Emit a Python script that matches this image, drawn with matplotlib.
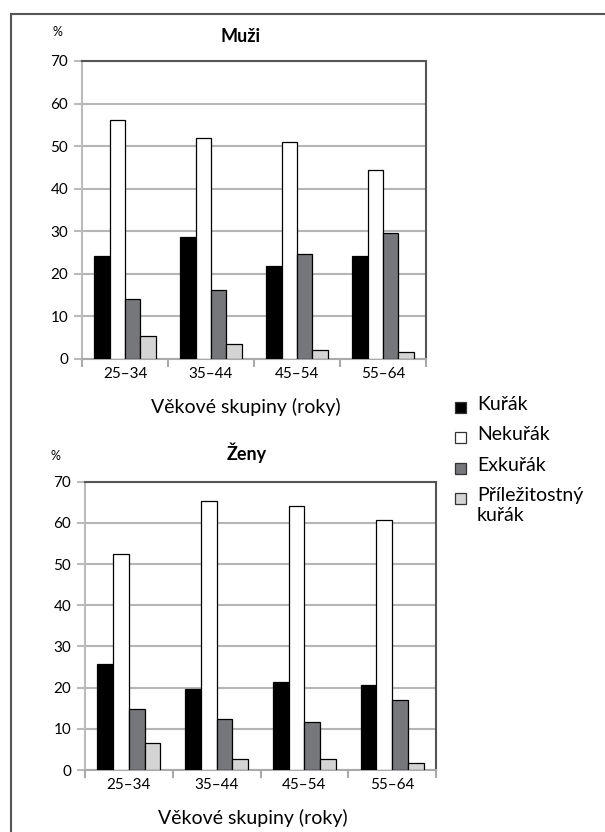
import matplotlib
matplotlib.use("Agg")
import matplotlib.pyplot as plt
import numpy as np
from matplotlib.patches import Rectangle
from matplotlib.lines import Line2D

plt.rcParams["font.family"] = ["Lato", "DejaVu Sans"]

groups = ["25–34", "35–44", "45–54", "55–64"]
series = ["Kuřák", "Nekuřák", "Exkuřák", "Příležitostný\nkuřák"]
colors = ["#000000", "#ffffff", "#76777b", "#d4d4d4"]

muzi_kurak = [24.2, 28.7, 21.9, 24.2]
muzi_nekurak = [56.2, 51.8, 51.0, 44.3]
muzi_exkurak = [14.1, 16.2, 24.6, 29.6]
muzi_prilez = [5.4, 3.5, 2.1, 1.6]

zeny_kurak = [25.7, 19.6, 21.4, 20.6]
zeny_nekurak = [52.4, 65.3, 64.2, 60.7]
zeny_exkurak = [14.7, 12.5, 11.7, 17.0]
zeny_prilez = [6.6, 2.7, 2.7, 1.6]

yticks = [0, 10, 20, 30, 40, 50, 60, 70]

W, H = 605, 832
fig = plt.figure(figsize=(W / 100, H / 100), dpi=100)


def fx(px):
    return px / W


def fy(py):
    return 1 - py / H


def draw_panel(rect, data, title, title_xy, pct_xy, xlabel_y):
    ax = fig.add_axes(rect)
    x = np.arange(len(groups))
    width = 0.18
    for i, vals in enumerate(data):
        ax.bar(x + (i - 1.5) * width, vals, width, color=colors[i],
               edgecolor="black", linewidth=0.9, zorder=3)
    ax.set_xlim(-0.5, len(groups) - 0.5)
    ax.set_ylim(0, 70)
    ax.set_yticks(yticks)
    ax.set_yticklabels([str(v) for v in yticks], fontsize=11)
    ax.yaxis.grid(True, color="#b5b5b5", linewidth=1.5, zorder=0)
    ax.set_xticks(x)
    ax.set_xticklabels(groups, fontsize=11)
    ax.set_xticks(np.arange(-0.5, len(groups)), minor=True)
    ax.tick_params(axis="x", which="major", length=0, pad=6)
    ax.tick_params(axis="x", which="minor", length=6, color="#aaaaaa", width=1.5)
    ax.tick_params(axis="y", length=6, color="#bbbbbb", width=1.5, pad=4)
    ax.spines["top"].set_color("#555555")
    ax.spines["right"].set_color("#555555")
    ax.spines["top"].set_linewidth(1.5)
    ax.spines["right"].set_linewidth(1.5)
    ax.spines["left"].set_color("#bbbbbb")
    ax.spines["left"].set_linewidth(1.5)
    ax.spines["bottom"].set_color("#aaaaaa")
    ax.spines["bottom"].set_linewidth(1.5)
    fig.text(fx(title_xy[0]), fy(title_xy[1]), title, fontsize=13,
             fontweight="bold", ha="center", va="center")
    fig.text(fx(pct_xy[0]), fy(pct_xy[1]), "%", fontsize=9, ha="center", va="center")
    fig.text(fx(rect[0] * W + rect[2] * W / 2 - 8), fy(xlabel_y), "Věkové skupiny (roky)",
             fontsize=14, ha="center", va="center")
    return ax


draw_panel([fx(82), fy(359), fx(426 - 82), (359 - 61) / H],
           [muzi_kurak, muzi_nekurak, muzi_exkurak, muzi_prilez],
           "Muži", (241, 37), (57, 32), 407)
draw_panel([fx(85), fy(770), fx(436 - 85), (770 - 481.7) / H],
           [zeny_kurak, zeny_nekurak, zeny_exkurak, zeny_prilez],
           "Ženy", (247, 453), (55, 456), 818)

# legend
leg_y = [407, 437, 468, 498]
for label, c, py in zip(series, colors, leg_y):
    fig.patches.append(Rectangle((fx(455), fy(py + 6)), 11 / W, 11 / H, facecolor=c,
                                 edgecolor="#333333", linewidth=0.9,
                                 transform=fig.transFigure, figure=fig))
    fig.text(fx(477), fy(py - 11), label, fontsize=14, ha="left", va="top",
             linespacing=1.2)

# frame
fig.add_artist(Line2D([fx(11), 1], [fy(14), fy(14)], color="#555555", linewidth=1.5,
                      transform=fig.transFigure))
fig.add_artist(Line2D([fx(11), fx(11)], [fy(14), 0], color="#555555", linewidth=1.5,
                      transform=fig.transFigure))

fig.savefig("out.png", dpi=100)
